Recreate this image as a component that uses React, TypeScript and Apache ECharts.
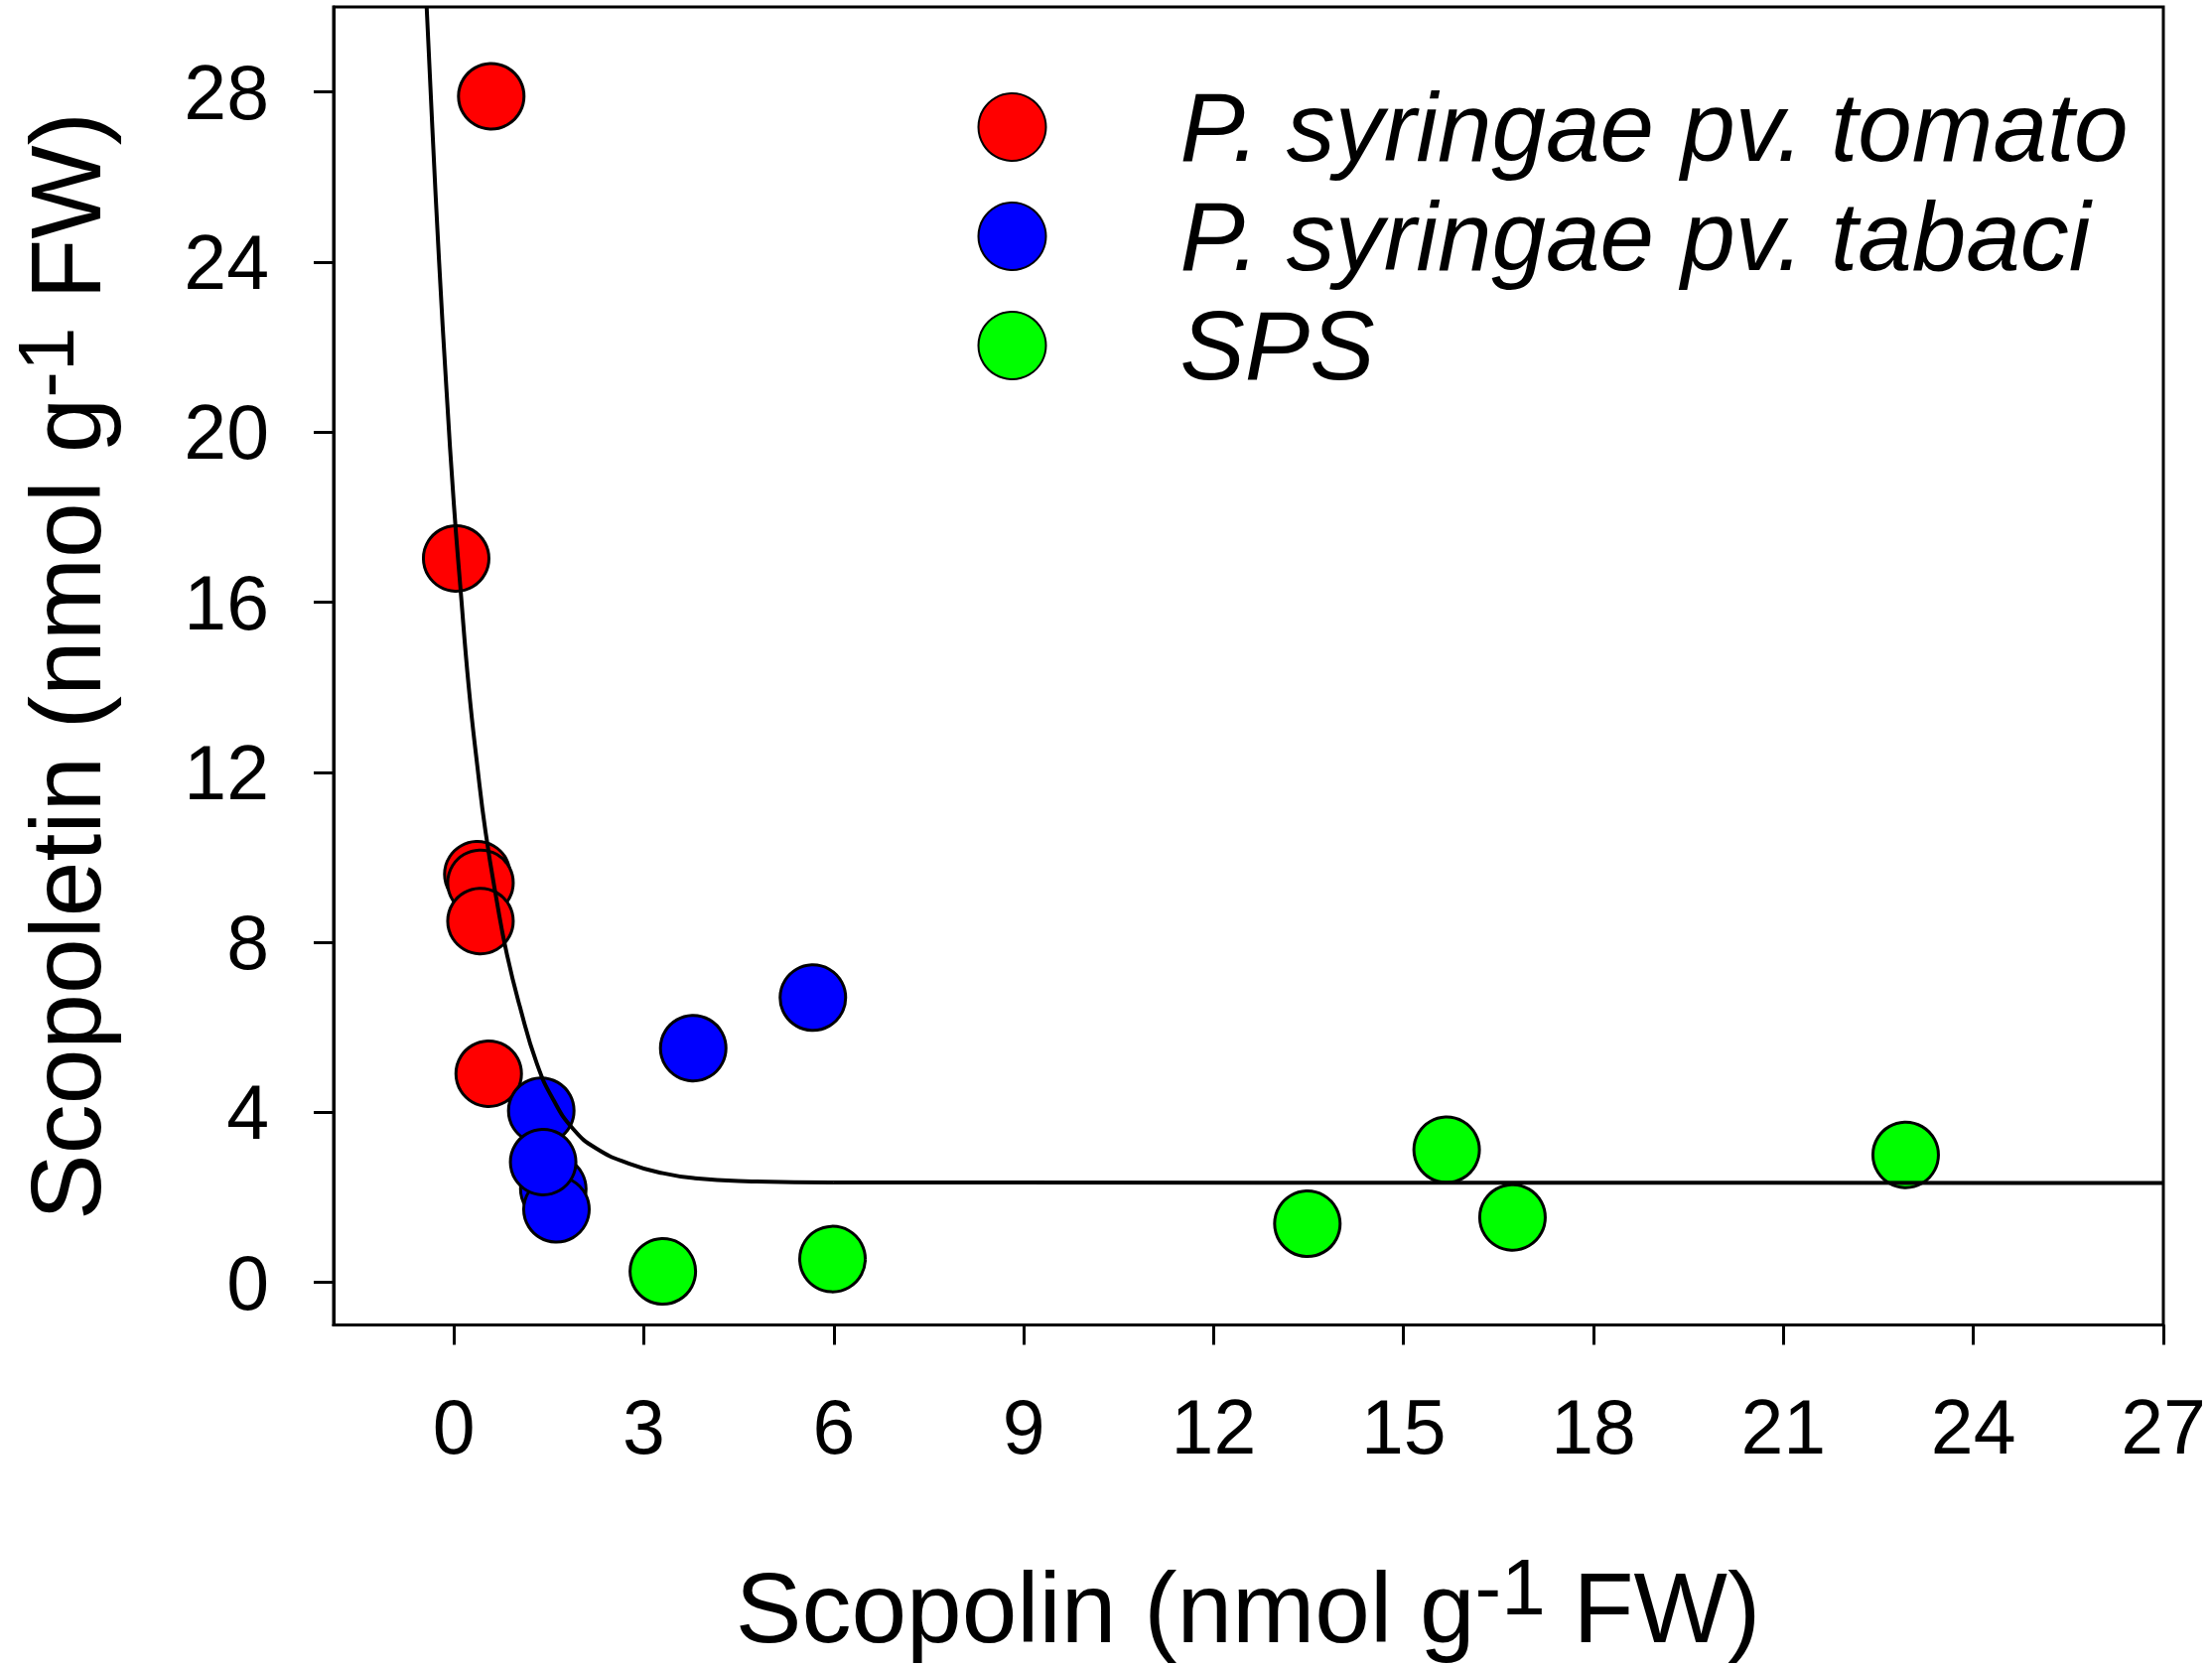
import React, { useEffect, useRef } from "react";
import * as echarts from "echarts";

const FONT = "'Liberation Sans', Arial, Helvetica, sans-serif";

const xTicks = [0, 3, 6, 9, 12, 15, 18, 21, 24, 27];
const yTicks = [0, 4, 8, 12, 16, 20, 24, 28];

const seriesNames = ["P. syringae pv. tomato", "P. syringae pv. tabaci", "SPS"];
const seriesColors = ["#ff0000", "#0000ff", "#00ff00"];

const tomatoX = [0.59, 0.036, 0.37, 0.42, 0.42, 0.55];
const tomatoY = [27.9, 17.03, 9.6, 9.4, 8.5, 4.91];

const tabaciX = [1.57, 1.62, 1.38, 1.41, 3.78, 5.67];
const tabaciY = [2.2, 1.72, 4.04, 2.83, 5.51, 6.7];

const spsX = [3.3, 5.98, 13.48, 15.68, 16.72, 22.93];
const spsY = [0.26, 0.55, 1.38, 3.12, 1.53, 3.0];

// fitted curve, points
const curveX = [-0.43, -0.34, -0.235, -0.115, 0, 0.1, 0.235, 0.37, 0.5, 0.68, 0.84, 1.04, 1.31, 1.57, 1.89, 2.25, 2.76, 3.3, 3.81, 4.6, 6, 27];
const curveY = [30.0, 27.15, 24.05, 20.95, 18.3, 16.4, 14.0, 12.15, 10.6, 8.95, 7.7, 6.5, 5.15, 4.3, 3.6, 3.15, 2.8, 2.57, 2.45, 2.38, 2.35, 2.34];

const pairs = (xs: number[], ys: number[]) => xs.map((x, i) => [x, ys[i]]);

export default function App() {
  const ref = useRef<HTMLDivElement>(null);
  useEffect(() => {
    if (!ref.current) return;
    const chart = echarts.init(ref.current, undefined, { renderer: "svg" });
    const scatterBase = (i: number, xs: number[], ys: number[]) => ({
      name: seriesNames[i],
      type: "scatter",
      data: pairs(xs, ys),
      symbol: "circle",
      symbolSize: 66,
      itemStyle: { color: seriesColors[i], borderColor: "#000", borderWidth: 3, opacity: 1 },
      z: 2,
    });
    const richM = { fontSize: 100, lineHeight: 110, verticalAlign: "bottom", fontFamily: FONT, fill: "#000", color: "#000" };
    const richS = { fontSize: 80, verticalAlign: "top", fontFamily: FONT, fill: "#000", color: "#000" };
    chart.setOption({
      animation: false,
      backgroundColor: "#fff",
      grid: {
        left: 336,
        top: 7,
        right: 49,
        bottom: 344.5,
        show: true,
        borderColor: "#000",
        borderWidth: 3,
        containLabel: false,
        outerBoundsMode: "none",
      },
      xAxis: {
        type: "value",
        min: -1.9,
        max: 27,
        splitLine: { show: false },
        axisLine: { show: true, onZero: false, lineStyle: { color: "#000", width: 3 } },
        axisTick: { show: true, inside: false, length: 20, customValues: xTicks, lineStyle: { color: "#000", width: 3 } },
        axisLabel: { show: true, customValues: xTicks, margin: 64, fontSize: 77, fontFamily: FONT, color: "#000" },
      },
      yAxis: {
        type: "value",
        min: -1,
        max: 30,
        splitLine: { show: false },
        axisLine: { show: true, onZero: false, lineStyle: { color: "#000", width: 3 } },
        axisTick: { show: true, inside: false, length: 20, customValues: yTicks, lineStyle: { color: "#000", width: 3 } },
        axisLabel: { show: true, customValues: yTicks, margin: 65, fontSize: 77, fontFamily: FONT, color: "#000" },
      },
      legend: {
        orient: "vertical",
        left: 984.5,
        top: 79,
        itemWidth: 328,
        itemHeight: 68,
        itemGap: 12,
        padding: 0,
        selectedMode: false,
        data: seriesNames,
        textStyle: { fontSize: 98, fontStyle: "italic", fontFamily: FONT, color: "#000" },
      },
      graphic: [
        {
          type: "text",
          x: 1257,
          y: 1613.5,
          style: {
            text: "{m|Scopolin (nmol g}{s|-1}{m| FW)}",
            rich: { m: richM, s: richS },
            align: "center",
            verticalAlign: "middle",
            fill: "#000",
          },
        },
        {
          type: "text",
          x: 61,
          y: 671,
          rotation: Math.PI / 2,
          style: {
            text: "{m|Scopoletin (nmol g}{s|-1}{m| FW)}",
            rich: { m: richM, s: richS },
            align: "center",
            verticalAlign: "middle",
            fill: "#000",
          },
        },
      ],
      series: [
        scatterBase(0, tomatoX, tomatoY),
        scatterBase(1, tabaciX, tabaciY),
        scatterBase(2, spsX, spsY),
        {
          name: "fit",
          type: "line",
          data: pairs(curveX, curveY),
          showSymbol: false,
          symbol: "none",
          smooth: 0.5,
          lineStyle: { color: "#000", width: 4 },
          z: 5,
          silent: true,
        },
      ],
    });
    return () => chart.dispose();
  }, []);
  return (
    <div
      ref={ref}
      style={{ position: "absolute", left: 0, top: 0, width: 2228, height: 1679, background: "#fff" }}
    />
  );
}
